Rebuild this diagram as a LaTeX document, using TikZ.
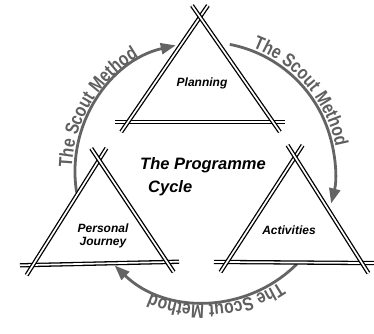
\documentclass[tikz,border=0pt]{standalone}
\usepackage{fontspec}
\setmainfont{Liberation Sans}
\newfontfamily\methodfont[FakeStretch=0.82]{Liberation Sans}
\usetikzlibrary{calc,arrows.meta,decorations.text}

\begin{document}
\begin{tikzpicture}[x=1pt,y=1pt,
  stick/.style={draw=black,line width=1.3pt,double=white,double distance=1.7pt},
  cyclearrow/.style={draw=arrowColor,line width=2.8pt,-{Triangle[length=15pt,width=11pt]}},
  boxlabel/.style={font=\fontsize{12}{12.5}\selectfont\bfseries\itshape,align=center,inner sep=0pt},
  titlelabel/.style={font=\fontsize{16.5}{17}\selectfont\bfseries\itshape,anchor=west,inner sep=0pt},
  methodtext/.style={decorate,decoration={text along path,text align=center,
    text color=textColor,text={|\methodfont\fontsize{19}{19}\selectfont\bfseries|The Scout Method}}}
]
\definecolor{arrowColor}{RGB}{100,100,100}
\definecolor{textColor}{RGB}{95,95,95}
\path[use as bounding box,fill=white] (0,0) rectangle (374,333);

\coordinate (center) at (205,161);

% the three arrows of the cycle
\coordinate (m1-start) at ($(center)+(189:130)$);
\coordinate (m2-start) at ($(center)+(79:130)$);
\coordinate (m3-start) at ($(center)+(-45:130)$);
\draw[cyclearrow] (m1-start) arc[start angle=189,end angle=103,radius=130];
\draw[cyclearrow] (m2-start) arc[start angle=79,end angle=-14,radius=130];
\draw[cyclearrow] (m3-start) arc[start angle=-45,end angle=-134,radius=130];

% the words along the arrows
\path[methodtext] ($(center)+(188:133)$) arc[start angle=188,end angle=110,radius=133];
\path[methodtext] ($(center)+(79:133)$) arc[start angle=79,end angle=1,radius=133];
\path[methodtext] ($(center)+(-46:133)$) arc[start angle=-46,end angle=-124,radius=133];

% triangles
\coordinate (plan-a) at (200,316);
\coordinate (plan-b) at (128,211);
\coordinate (plan-c) at (273,211);

\coordinate (pers-a) at (99,173);
\coordinate (pers-b) at (33,68);
\coordinate (pers-c) at (167,71);

\coordinate (act-a) at (295,176);
\coordinate (act-b) at (227,71);
\coordinate (act-c) at (362,70);

\foreach \t in {plan,pers,act}{
  \draw[stick] ($(\t-b)!-13pt!(\t-c)$) -- ($(\t-c)!-12pt!(\t-b)$);
  \draw[stick] ($(\t-a)!-14pt!(\t-b)$) -- ($(\t-b)!-12pt!(\t-a)$);
  \draw[stick] ($(\t-a)!-14pt!(\t-c)$) -- ($(\t-c)!-12pt!(\t-a)$);
}

% labels
\node[boxlabel] (planning) at (202,250) {Planning};
\node[boxlabel] (journey) at (103,97) {Personal\\Journey};
\node[boxlabel] (activities) at (289,103) {Activities};
\node[titlelabel] (programme) at (140,168) {The Programme};
\node[titlelabel] (cycle) at (148,145) {Cycle};
\end{tikzpicture}
\end{document}
